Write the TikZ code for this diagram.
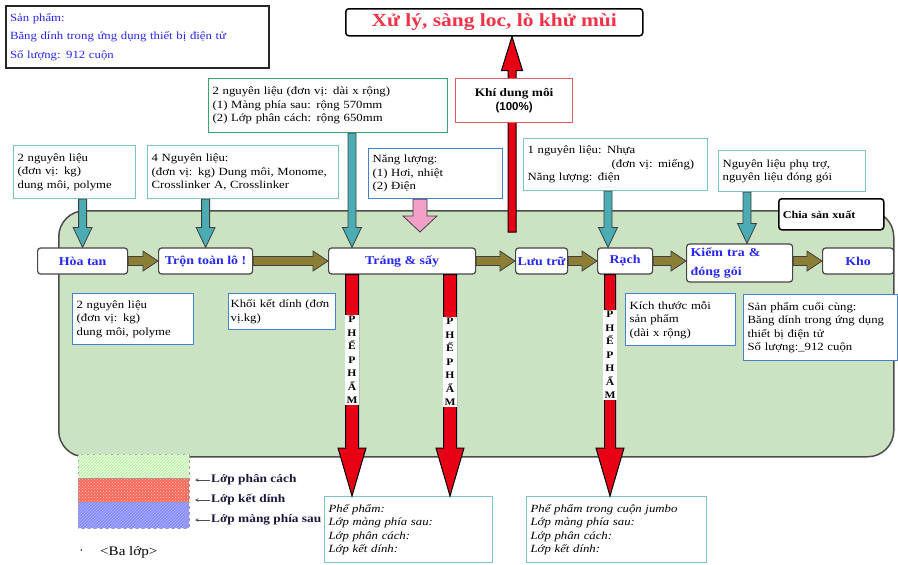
\documentclass[tikz,border=0pt]{standalone}
\usepackage{fontspec}
\setmainfont{Liberation Serif}[FakeStretch=1.16]
\newfontfamily\sansf{Liberation Sans}
\usetikzlibrary{calc,patterns}
\definecolor{greenbg}{RGB}{203,226,195}
\definecolor{olivec}{RGB}{140,126,52}
\definecolor{tealc}{RGB}{75,172,180}
\definecolor{tealedge}{RGB}{120,196,198}
\definecolor{greenedge}{RGB}{50,168,110}
\definecolor{blueedge}{RGB}{70,130,200}
\definecolor{redc}{RGB}{232,0,20}
\definecolor{pinkc}{RGB}{242,160,200}
\definecolor{procblue}{RGB}{40,40,240}
\definecolor{procedge}{RGB}{70,70,70}
\definecolor{titlered}{RGB}{240,50,70}
\definecolor{khiedge}{RGB}{225,90,95}
\definecolor{legtext}{RGB}{25,25,60}
\newcommand\bodyf{\fontsize{11}{13.5}\selectfont}
\newcommand\procf{\fontsize{12}{14}\selectfont\bfseries}
\newcommand\vlabf{\fontsize{10}{13.5}\selectfont\bfseries}
\newcommand\fatarr[6]{%
  \path #1 coordinate (fa-s);
  \path #2 coordinate (fa-e);
  \coordinate (fa-h) at ($(fa-e)!#5!(fa-s)$);
  \draw[#6] ($(fa-s)!#3!90:(fa-e)$) -- ($(fa-h)!#3!90:(fa-e)$) -- ($(fa-h)!#4!90:(fa-e)$) -- (fa-e)
    -- ($(fa-h)!#4!-90:(fa-e)$) -- ($(fa-h)!#3!-90:(fa-e)$) -- ($(fa-s)!#3!-90:(fa-e)$) -- cycle;
}
\begin{document}
\begin{tikzpicture}[x=1pt,y=-1pt,
  ibox/.style={draw, fill=white, line width=1.3pt, anchor=north west, align=left, inner xsep=4pt, inner ysep=2pt, font=\bodyf},
  proc/.style={draw=procedge, fill=white, rounded corners=3pt, line width=1.2pt, anchor=west, minimum height=26pt, inner sep=1pt, font=\procf, text=procblue},
  olivearr/.style={draw=black!75, line width=0.8pt, fill=olivec},
  tealarr/.style={draw=black!75, line width=0.8pt, fill=tealc},
  redarr/.style={draw=black, line width=1pt, fill=redc},
  pinkarr/.style={draw=black!75, line width=0.8pt, fill=pinkc},
  vlab/.style={fill=white, inner sep=1.5pt, align=center, font=\vlabf},
  leg/.style={anchor=west, font=\fontsize{11.5}{12}\selectfont\bfseries, text=legtext, inner sep=1pt},
]
\useasboundingbox (0,0) rectangle (898,565);

% production region
\node[draw=black!70, line width=1.5pt, fill=greenbg, rounded corners=26pt, minimum width=835pt, minimum height=246pt, anchor=north west, inner sep=0pt] (region) at (58,210) {};

% top-left product box
\node[ibox, draw=black!85, line width=2pt, text width=255pt, minimum height=62pt, font=\fontsize{11}{18.5}\selectfont, text=procblue] (sp) at (5,5)
  {Sản phẩm:\\Băng dính trong ứng dụng thiết bị điện tử\\Số lượng: 912 cuộn};

% title box
\node[draw=black, line width=1.5pt, rounded corners=3pt, fill=white, minimum width=297pt, minimum height=27pt, anchor=north west, font=\fontsize{18.5}{20}\selectfont\bfseries, text=titlered] (title) at (345,8) {Xử lý, sàng loc, lò khử mùi};

% input boxes
\node[ibox, draw=tealedge, text width=114pt, minimum height=53pt] (in1) at (13,145) {2 nguyên liệu\\(đơn vị: kg)\\dung môi, polyme};
\node[ibox, draw=tealedge, text width=183pt, minimum height=53pt] (in2) at (147,145) {4 Nguyên liệu:\\(đơn vị: kg) Dung môi, Monome,\\Crosslinker A, Crosslinker};
\node[ibox, draw=greenedge, text width=231pt, minimum height=54pt] (in3) at (208,78) {2 nguyên liệu (đơn vị: dài x rộng)\\(1) Màng phía sau: rộng 570mm\\(2) Lớp phân cách: rộng 650mm};
\node[ibox, draw=blueedge, text width=126pt, minimum height=50pt] (nl) at (368,148) {Năng lượng:\\(1) Hơi, nhiệt\\(2) Điện};
\node[ibox, draw=tealedge, text width=176pt, minimum height=52pt] (in4) at (523,138) {1 nguyên liệu: Nhựa\\\hspace*{84pt}(đơn vị: miếng)\\Năng lượng: điện};
\node[ibox, draw=tealedge, text width=139pt, minimum height=41pt] (in5) at (718,150) {Nguyên liệu phụ trợ,\\nguyên liệu đóng gói};
\node[ibox, draw=black, line width=1.5pt, rounded corners=3pt, text width=97pt, minimum height=31pt, font=\fontsize{10.5}{12}\selectfont\bfseries] (chia) at (778,198) {Chia sản xuất};

% process nodes
\node[proc, minimum width=90pt] (hoatan) at (37,261) {Hòa tan};
\node[proc, minimum width=94pt] (tron) at (158,261) {Trộn toàn lô !};
\node[proc, minimum width=147pt] (trang) at (328,261) {Tráng \& sấy};
\node[proc, minimum width=52pt] (luutru) at (515,261) {Lưu trữ};
\node[proc, minimum width=55pt] (rach) at (597,261) {Rạch};
\node[proc, minimum width=106pt, minimum height=38pt, align=left, text width=98pt, inner xsep=4pt, font=\fontsize{12}{19}\selectfont\bfseries] (kiemtra) at (686,263) {Kiểm tra \&\\đóng gói};
\node[proc, minimum width=71pt] (kho) at (822,261) {Kho};

% teal input arrows
\coordinate (a3) at ($(in3.south west)+(144,0)$);
\coordinate (a4) at ($(in4.south west)+(85,0)$);
\coordinate (a5) at ($(in5.south west)+(29,0)$);
\fatarr{(hoatan.north |- in1.south)}{(hoatan.north)}{4pt}{9.5pt}{20pt}{tealarr}
\fatarr{(tron.north |- in2.south)}{(tron.north)}{4pt}{9.5pt}{20pt}{tealarr}
\fatarr{(a3)}{(a3 |- trang.north)}{4pt}{9.5pt}{20pt}{tealarr}
\fatarr{(a4)}{(a4 |- rach.north)}{4pt}{9.5pt}{20pt}{tealarr}
\fatarr{(a5)}{(a5 |- kiemtra.north)}{4pt}{9.5pt}{20pt}{tealarr}

% pink energy arrow
\coordinate (a6) at ($(nl.south west)+(52,0)$);
\coordinate (pe) at (420,232);
\fatarr{(a6)}{(pe)}{7pt}{17pt}{16pt}{pinkarr}

% red gas arrow up
\coordinate (gs) at (512,232);
\fatarr{(gs)}{(gs |- title.south)}{4pt}{10.5pt}{34pt}{redarr}
\node[ibox, draw=khiedge, line width=1.2pt, minimum width=117pt, minimum height=44pt, align=center, font=\fontsize{11.5}{14}\selectfont\bfseries] (khi) at (455,78) {Khí dung môi\\{\sansf(100\%)}};

% olive process arrows
\fatarr{(hoatan.east)}{(tron.west)}{4.5pt}{10pt}{15pt}{olivearr}
\fatarr{(tron.east)}{(trang.west)}{4.5pt}{10pt}{15pt}{olivearr}
\fatarr{(trang.east)}{(luutru.west)}{4.5pt}{10pt}{15pt}{olivearr}
\fatarr{(luutru.east)}{(rach.west)}{4.5pt}{10pt}{15pt}{olivearr}
\fatarr{(rach.east)}{(rach.east -| kiemtra.west)}{4.5pt}{10pt}{15pt}{olivearr}
\fatarr{(kho.west -| kiemtra.east)}{(kho.west)}{4.5pt}{10pt}{15pt}{olivearr}

% inner info boxes
\node[ibox, draw=blueedge, text width=113pt, minimum height=51pt] (kd1) at (72,293) {2 nguyên liệu\\(đơn vị: kg)\\dung môi, polyme};
\node[ibox, draw=blueedge, text width=103pt, minimum height=36pt, inner xsep=2pt] (kd2) at (228,293) {Khối kết dính (đơn\\vị.kg)};
\node[ibox, draw=blueedge, text width=102pt, minimum height=52pt] (kt) at (625,293) {Kích thước mỗi\\sản phẩm\\(dài x rộng)};
\node[ibox, draw=blueedge, text width=146pt, minimum height=66pt] (spcc) at (743,294) {Sản phẩm cuối cùng:\\Băng dính trong ứng dụng\\thiết bị điện tử\\Số lượng:\_912 cuộn};

% bottom scrap boxes
\node[ibox, draw=tealedge, text width=160pt, minimum height=66pt, font=\bodyf\itshape] (pp1) at (324,496) {Phế phẩm:\\Lớp màng phía sau:\\Lớp phân cách:\\Lớp kết dính:};
\node[ibox, draw=tealedge, text width=172pt, minimum height=66pt, font=\bodyf\itshape] (pp2) at (526,496) {Phế phẩm trong cuộn jumbo\\Lớp màng phía sau:\\Lớp phân cách:\\Lớp kết dính:};

% red scrap arrows
\coordinate (x1) at (352,0);
\coordinate (x2) at (450,0);
\coordinate (x3) at (610,0);
\fatarr{(x1 |- trang.south)}{(x1 |- pp1.north)}{6.5pt}{14pt}{48pt}{redarr}
\fatarr{(x2 |- trang.south)}{(x2 |- pp1.north)}{6.5pt}{14pt}{48pt}{redarr}
\fatarr{(x3 |- rach.south)}{(x3 |- pp2.north)}{5.5pt}{14pt}{48pt}{redarr}
\node[vlab] (v1) at (352,360) {P\\H\\Ế\\P\\H\\Ẩ\\M};
\node[vlab] (v2) at (450,362) {P\\H\\Ế\\P\\H\\Ẩ\\M};
\node[vlab] (v3) at (610,355) {P\\H\\Ế\\P\\H\\Ẩ\\M};

% legend
\draw[draw=black!40, dashed, fill={rgb,255:red,190;green,245;blue,170}] (78,454) rectangle (189,478);
\fill[pattern=north east lines, pattern color=white] (78,454) rectangle (189,478);
\draw[draw=black!40, dashed, fill={rgb,255:red,250;green,105;blue,90}] (78,478) rectangle (189,502);
\fill[pattern=crosshatch dots, pattern color=white!80!red] (78,478) rectangle (189,502);
\draw[draw=black!40, dashed, fill={rgb,255:red,135;green,140;blue,250}] (78,502) rectangle (189,528);
\fill[pattern=north east lines, pattern color=white!70!blue] (78,502) rectangle (189,528);
\node[leg] (l1) at (210,480) {Lớp phân cách};
\node[leg] (l2) at (210,500) {Lớp kết dính};
\node[leg] (l3) at (210,520) {Lớp màng phía sau};
\draw[->, >=stealth, black!70, line width=0.6pt] (l1.west) -- ++(-15,0);
\draw[->, >=stealth, black!70, line width=0.6pt] (l2.west) -- ++(-15,0);
\draw[->, >=stealth, black!70, line width=0.6pt] (l3.west) -- ++(-15,0);
\node[font=\fontsize{12}{13}\selectfont, anchor=west, inner sep=0pt] (dot) at (79,552) {·};
\node[font=\fontsize{13}{14}\selectfont, anchor=west, inner sep=0pt] (balop) at (100,552) {<Ba lớp>};
\end{tikzpicture}
\end{document}
